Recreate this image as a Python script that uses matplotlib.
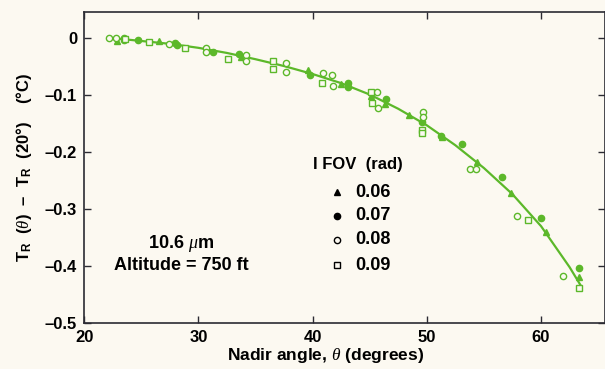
import matplotlib
matplotlib.use("Agg")
import matplotlib.pyplot as plt
from matplotlib.lines import Line2D

plt.rcParams['font.family'] = ['Liberation Sans', 'DejaVu Sans']
plt.rcParams['mathtext.fontset'] = 'custom'
plt.rcParams['mathtext.rm'] = 'Liberation Sans:bold'
plt.rcParams['mathtext.bf'] = 'Liberation Sans:bold'
plt.rcParams['mathtext.it'] = 'Liberation Serif:italic'

# IFOV 0.06 rad (filled triangles)
tri_x = [22.9, 26.6, 33.7, 39.6, 42.5, 45.1, 46.3, 48.4, 51.3, 54.4, 57.4, 60.4, 63.3]
tri_y = [-0.005, -0.005, -0.033, -0.056, -0.081, -0.102, -0.115, -0.135, -0.174, -0.217, -0.272, -0.340, -0.420]
# IFOV 0.07 rad (filled circles)
dot_x = [23.5, 24.7, 28.0, 28.1, 31.3, 33.6, 39.8, 43.1, 43.1, 46.4, 49.6, 51.2, 53.1, 56.6, 60.0, 63.3]
dot_y = [-0.004, -0.004, -0.008, -0.012, -0.025, -0.027, -0.065, -0.079, -0.086, -0.106, -0.147, -0.171, -0.185, -0.244, -0.315, -0.404]
# IFOV 0.08 rad (open circles)
circ_x = [22.2, 22.8, 23.5, 27.4, 30.7, 30.7, 34.2, 34.2, 37.7, 37.7, 40.9, 41.7, 41.8, 45.6, 45.7,
          49.7, 49.7, 53.8, 54.3, 57.9, 61.9]
circ_y = [0.0, 0.0, 0.0, -0.010, -0.018, -0.024, -0.029, -0.040, -0.044, -0.059, -0.062, -0.065, -0.084,
          -0.094, -0.123, -0.130, -0.139, -0.229, -0.230, -0.312, -0.418]
# IFOV 0.09 rad (open squares)
sq_x = [23.6, 25.7, 28.8, 32.6, 36.5, 36.5, 40.8, 45.1, 45.2, 49.6, 49.6, 58.9, 63.3]
sq_y = [-0.002, -0.006, -0.017, -0.036, -0.040, -0.054, -0.079, -0.094, -0.113, -0.161, -0.166, -0.320, -0.439]

# fitted curve
fit_x = [22.5, 25, 27.5, 30, 32.5, 35, 37.5, 40, 42.5, 45, 47.5, 50, 52.5, 55, 57.5, 60, 62.5, 63.5]
fit_y = [0.0, -0.005, -0.010, -0.017, -0.026, -0.037, -0.049, -0.063, -0.079, -0.099, -0.124, -0.153,
         -0.188, -0.228, -0.274, -0.330, -0.402, -0.435]

x_ticks = [20, 30, 40, 50, 60]
y_ticks = [0, -0.1, -0.2, -0.3, -0.4, -0.5]
y_tick_labels = ['0', '\u20130.1', '\u20130.2', '\u20130.3', '\u20130.4', '\u20130.5']
legend_labels = ['0.06', '0.07', '0.08', '0.09']

green = '#5cb82a'
bg = '#fcf9f1'
spine = '#2b2b33'

fig = plt.figure(figsize=(6.05, 3.69), dpi=100, facecolor=bg)
ax = fig.add_axes([0.139, 0.1247, 0.861, 0.843], facecolor=bg)

ax.plot(fit_x, fit_y, color=green, lw=1.6, zorder=2)
ms = 4.5
ax.plot(tri_x, tri_y, ls='none', marker='^', ms=ms, color=green, mec=green, zorder=3)
ax.plot(dot_x, dot_y, ls='none', marker='o', ms=ms, color=green, mec=green, zorder=3)
ax.plot(circ_x, circ_y, ls='none', marker='o', ms=ms, mfc=bg, mec=green, mew=1.0, zorder=3)
ax.plot(sq_x, sq_y, ls='none', marker='s', ms=ms, mfc=bg, mec=green, mew=1.0, zorder=3)

ax.set_xlim(20, 65.6)
ax.set_ylim(-0.5, 0.046)
ax.set_xticks(x_ticks)
ax.set_yticks(y_ticks)
ax.set_yticklabels(y_tick_labels)
ax.tick_params(direction='in', length=5, width=1, color=spine, top=True, right=True,
               labelsize=12, pad=5)
for lab in ax.get_xticklabels() + ax.get_yticklabels():
    lab.set_fontweight('bold')
for s in ax.spines.values():
    s.set_color(spine)
    s.set_linewidth(1.2)

ax.set_xlabel(r'Nadir angle, $\theta$ (degrees)', fontsize=12.5, fontweight='bold', labelpad=1)
ax.xaxis.set_label_coords((325 - 84) / (605 - 84), -0.075)
ax.set_ylabel('T$_{\\mathbf{R}}$  ($\\theta$)  \u2013  T$_{\\mathbf{R}}$  (20\u00b0)    (\u00b0C)',
              fontsize=12, fontweight='bold', labelpad=8)

# legend block
fig.text(313/605, 1-164/369, 'I FOV  (rad)', fontsize=12, fontweight='bold', va='center', ha='left')
rows = [192, 216, 240, 265]
mk = [dict(marker='^', color='black'), dict(marker='o', color='black'),
      dict(marker='o', mfc='none', mec='black'), dict(marker='s', mfc='none', mec='black')]
for y, lab, kw in zip(rows, legend_labels, mk):
    fig.lines.append(Line2D([337/605], [1-y/369], transform=fig.transFigure,
                            ls='none', ms=4.5, mew=1.0, **kw))
    fig.text(355/605, 1-y/369, lab, fontsize=13, fontweight='bold', va='center', ha='left')

fig.text(181/605, 1-243/369, r'10.6 $\mu$m', fontsize=13, fontweight='bold', va='center', ha='center')
fig.text(181/605, 1-265/369, 'Altitude = 750 ft', fontsize=13, fontweight='bold', va='center', ha='center')

fig.savefig('out.png', dpi=100, facecolor=bg)
